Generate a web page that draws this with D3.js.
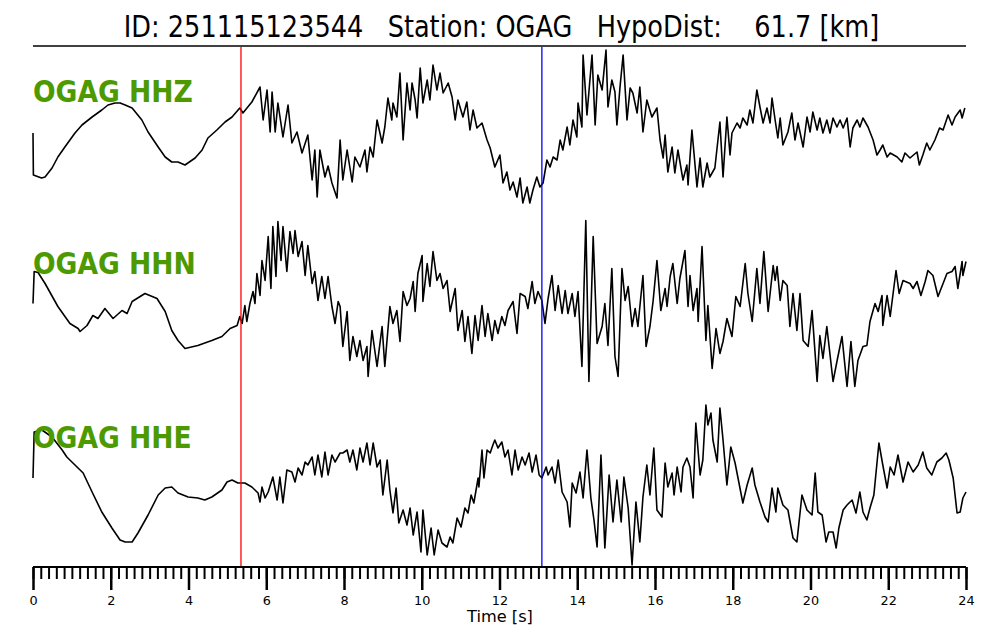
<!DOCTYPE html>
<meta charset="utf-8">
<style>
body {
    margin: 0;
    background: #fff;
}
svg text {
    font-family: 'DejaVu Sans', sans-serif;
    fill: #000;
}
.trace {
    fill: none;
    stroke: #000;
    stroke-width: 1.6px;
    stroke-linejoin: round;
}
.label {
    fill: #4c9a00 !important;
    font-weight: bold;
}
</style>
<svg width="1000" height="640"></svg>

<script src="https://cdn.jsdelivr.net/npm/d3@7"></script>
<script>
const eventId = '251115123544';
const station = 'OGAG';
const hypoDist = 61.7;
const channels = ['HHZ', 'HHN', 'HHE'];
const pPick = 5.35;   // s
const sPick = 13.09;  // s

// [time (s), normalised amplitude]
const hhz = [
[0,-7],[0.01,-49],[0.22,-52],[0.31,-51],[0.49,-42],[0.64,-31],[0.82,-21],[1.08,-7],[1.26,1],[1.52,9],[1.77,16],[1.93,21],[2.11,23],[2.24,23],[2.37,21],[2.55,18],[2.80,6],[2.96,-6],[3.22,-21],[3.40,-31],[3.57,-36],[3.73,-36],[3.91,-39],[4.17,-32],[4.35,-24],[4.50,-12],[4.73,-4],[4.94,4],[5.12,9],[5.32,18],[5.40,13],[5.63,24],[5.84,39],[5.92,6],[6.02,36],[6.10,-6],[6.15,34],[6.23,-6],[6.30,23],[6.43,-11],[6.56,21],[6.66,-17],[6.79,-6],[6.92,-27],[7.07,-9],[7.18,-54],[7.25,-24],[7.31,-71],[7.38,-24],[7.51,-51],[7.59,-40],[7.69,-57],[7.82,-72],[7.90,-14],[7.97,-54],[8.08,-24],[8.21,-56],[8.28,-31],[8.41,-41],[8.54,-24],[8.59,-46],[8.67,-21],[8.75,-31],[8.85,6],[8.98,-17],[9.05,-1],[9.13,28],[9.23,6],[9.26,23],[9.36,9],[9.44,53],[9.52,-14],[9.62,43],[9.70,16],[9.75,43],[9.83,26],[9.88,8],[9.96,58],[10.03,23],[10.14,46],[10.21,26],[10.29,61],[10.39,36],[10.47,53],[10.55,33],[10.68,43],[10.78,29],[10.86,6],[10.93,26],[11.06,9],[11.16,24],[11.24,-4],[11.32,16],[11.42,-2],[11.55,3],[11.68,-14],[11.76,-22],[11.88,-41],[12.01,-29],[12.09,-57],[12.19,-46],[12.27,-64],[12.35,-56],[12.45,-71],[12.53,-52],[12.60,-77],[12.71,-61],[12.78,-77],[12.86,-64],[12.96,-51],[13.04,-61],[13.12,-57],[13.22,-34],[13.30,-41],[13.38,-31],[13.48,-34],[13.56,-14],[13.63,-24],[13.74,-1],[13.81,-19],[13.89,6],[13.99,-11],[14.02,23],[14.12,-1],[14.15,71],[14.25,11],[14.38,71],[14.46,1],[14.53,51],[14.64,36],[14.74,76],[14.79,19],[14.89,46],[14.97,34],[15.02,1],[15.10,39],[15.18,71],[15.28,6],[15.36,38],[15.43,33],[15.54,13],[15.61,39],[15.69,-6],[15.79,26],[15.92,9],[16.05,18],[16.13,-14],[16.21,-32],[16.26,-9],[16.33,-46],[16.44,-21],[16.51,-47],[16.59,-24],[16.72,-54],[16.82,-39],[16.85,-59],[16.95,-4],[17.08,-61],[17.16,-32],[17.23,-61],[17.34,-37],[17.41,-51],[17.54,-42],[17.67,4],[17.75,-51],[17.85,9],[17.93,-29],[17.98,-7],[18.11,3],[18.19,-2],[18.26,8],[18.37,1],[18.44,16],[18.52,3],[18.62,36],[18.70,19],[18.78,3],[18.88,18],[18.96,3],[19.01,28],[19.09,6],[19.16,-12],[19.22,8],[19.29,-19],[19.42,-6],[19.52,13],[19.60,-14],[19.68,3],[19.81,-21],[19.91,9],[19.99,-6],[20.06,14],[20.17,-4],[20.24,8],[20.32,-7],[20.42,6],[20.50,-7],[20.58,8],[20.68,-1],[20.76,6],[20.84,-2],[20.94,8],[21.02,-21],[21.09,-2],[21.20,6],[21.27,-1],[21.35,8],[21.48,-1],[21.61,-14],[21.71,-29],[21.79,-24],[21.86,-19],[21.97,-31],[22.05,-27],[22.23,-31],[22.35,-36],[22.43,-27],[22.56,-32],[22.74,-26],[22.80,-39],[22.89,-29],[22.99,-17],[23.07,-24],[23.20,-14],[23.32,-2],[23.41,-4],[23.54,11],[23.64,1],[23.72,9],[23.85,16],[23.90,8],[23.97,18]
];

const hhn = [
[0,2],[0.03,34],[0.13,33],[0.31,22],[0.64,-1],[0.95,-18],[1.16,-23],[1.21,-26],[1.39,-20],[1.54,-10],[1.67,-13],[1.85,-3],[2.06,-13],[2.29,-5],[2.42,-8],[2.55,4],[2.88,12],[3.19,7],[3.40,-6],[3.57,-25],[3.73,-35],[3.91,-43],[4.24,-40],[4.60,-35],[4.86,-31],[5.07,-23],[5.25,-20],[5.32,-11],[5.38,-18],[5.45,0],[5.50,-16],[5.58,2],[5.66,14],[5.71,2],[5.76,32],[5.84,10],[5.89,45],[5.97,25],[6.05,69],[6.12,17],[6.17,79],[6.25,29],[6.30,84],[6.38,45],[6.43,79],[6.53,34],[6.61,74],[6.69,52],[6.74,75],[6.82,49],[6.92,64],[7.00,30],[7.07,60],[7.18,22],[7.25,34],[7.33,5],[7.43,29],[7.51,7],[7.59,29],[7.69,-1],[7.77,-18],[7.85,4],[7.90,-1],[7.97,-41],[8.08,-6],[8.15,-55],[8.23,-31],[8.33,-51],[8.41,-35],[8.49,-55],[8.59,-41],[8.62,-71],[8.72,-25],[8.85,-61],[8.98,-21],[9.05,-61],[9.18,-1],[9.26,-18],[9.36,-5],[9.44,-36],[9.52,14],[9.62,0],[9.70,7],[9.78,24],[9.83,-6],[9.90,32],[10.01,50],[10.03,4],[10.14,42],[10.21,19],[10.29,54],[10.39,25],[10.47,32],[10.55,17],[10.65,25],[10.73,-6],[10.86,17],[10.93,-25],[11.04,-5],[11.11,-36],[11.19,-11],[11.29,-48],[11.37,-10],[11.45,-35],[11.55,0],[11.63,-31],[11.70,-8],[11.81,-35],[11.88,-15],[11.96,-28],[12.06,-11],[12.14,-20],[12.22,-5],[12.35,4],[12.45,-28],[12.53,12],[12.66,9],[12.73,-3],[12.84,24],[12.91,2],[12.99,14],[13.09,5],[13.17,-18],[13.25,7],[13.35,30],[13.43,-5],[13.51,20],[13.61,-8],[13.69,15],[13.76,-8],[13.87,12],[13.94,-11],[14.02,14],[14.12,-61],[14.22,85],[14.30,-76],[14.41,69],[14.51,-38],[14.64,-21],[14.71,2],[14.79,-40],[14.89,37],[14.97,-51],[15.05,-71],[15.15,37],[15.23,5],[15.31,19],[15.41,-21],[15.49,-3],[15.56,-21],[15.69,30],[15.77,-41],[15.87,-21],[15.95,4],[16.05,45],[16.15,-5],[16.26,17],[16.31,-1],[16.39,29],[16.46,42],[16.57,2],[16.64,27],[16.77,55],[16.85,-1],[16.90,30],[16.98,-5],[17.08,17],[17.11,-16],[17.21,59],[17.31,-35],[17.36,0],[17.47,-63],[17.57,-23],[17.67,-48],[17.75,-36],[17.85,-13],[17.98,-31],[18.08,9],[18.19,-1],[18.32,42],[18.39,12],[18.50,-16],[18.62,37],[18.70,2],[18.80,54],[18.91,-6],[19.04,40],[19.09,25],[19.14,39],[19.22,5],[19.29,25],[19.40,20],[19.47,-21],[19.55,12],[19.65,-25],[19.73,12],[19.81,-35],[19.94,-41],[20.04,-5],[20.17,-76],[20.24,-30],[20.32,-53],[20.42,-21],[20.58,-76],[20.68,-56],[20.81,-31],[20.94,-81],[21.04,-36],[21.14,-81],[21.22,-55],[21.35,-41],[21.45,-40],[21.53,-16],[21.66,2],[21.74,-6],[21.84,10],[21.86,-20],[21.97,10],[22.05,-11],[22.20,35],[22.28,12],[22.38,25],[22.56,22],[22.64,17],[22.74,24],[22.84,10],[22.95,24],[23.02,35],[23.15,30],[23.28,9],[23.41,22],[23.51,32],[23.64,34],[23.72,39],[23.79,17],[23.90,44],[23.92,30],[24.00,44]
];

const hhe = [
[0,7],[0.03,53],[0.23,55],[0.49,48],[0.75,35],[0.87,28],[1.08,20],[1.29,12],[1.52,-7],[1.77,-27],[2.03,-43],[2.24,-55],[2.37,-57],[2.55,-57],[2.70,-48],[2.96,-30],[3.22,-10],[3.40,-3],[3.57,-2],[3.73,-8],[3.99,-12],[4.24,-13],[4.42,-15],[4.60,-12],[4.86,-5],[4.99,3],[5.12,5],[5.27,2],[5.45,2],[5.63,-2],[5.79,-8],[5.84,-17],[5.89,-2],[5.97,-13],[6.05,-7],[6.17,8],[6.28,-15],[6.35,8],[6.43,-18],[6.53,15],[6.66,13],[6.74,3],[6.82,17],[6.92,10],[7.00,23],[7.07,20],[7.18,28],[7.25,10],[7.33,30],[7.43,8],[7.51,33],[7.59,10],[7.69,30],[7.77,23],[7.90,32],[7.97,32],[8.08,35],[8.15,23],[8.23,35],[8.33,15],[8.41,37],[8.49,23],[8.59,42],[8.67,20],[8.75,42],[8.85,18],[8.93,25],[9.00,-10],[9.11,25],[9.18,-5],[9.26,-28],[9.34,-3],[9.41,-38],[9.52,-25],[9.62,-40],[9.70,-23],[9.78,-50],[9.88,-27],[9.98,-67],[10.03,-25],[10.14,-70],[10.24,-43],[10.32,-70],[10.42,-45],[10.52,-58],[10.65,-62],[10.73,-52],[10.80,-58],[10.91,-33],[11.01,-42],[11.11,-23],[11.19,-28],[11.27,-10],[11.34,-18],[11.45,7],[11.47,-2],[11.55,35],[11.60,7],[11.68,35],[11.76,32],[11.83,40],[11.88,45],[11.96,37],[12.06,43],[12.14,28],[12.22,35],[12.32,10],[12.40,35],[12.48,15],[12.58,28],[12.66,20],[12.76,32],[12.84,13],[12.94,30],[13.02,10],[13.09,7],[13.20,18],[13.25,10],[13.35,18],[13.43,2],[13.51,25],[13.61,-7],[13.74,-17],[13.81,-42],[13.87,2],[13.97,-8],[14.07,13],[14.15,-13],[14.25,35],[14.35,-13],[14.43,-35],[14.51,-62],[14.61,30],[14.71,-63],[14.82,10],[14.92,-37],[15.02,5],[15.13,-37],[15.20,8],[15.31,-23],[15.41,-80],[15.51,-17],[15.61,-57],[15.69,-12],[15.79,20],[15.87,-10],[15.97,37],[16.05,-25],[16.18,-32],[16.26,22],[16.33,-2],[16.44,12],[16.49,-10],[16.57,18],[16.67,-7],[16.72,18],[16.82,27],[16.90,18],[16.98,-13],[17.05,62],[17.16,10],[17.23,25],[17.31,80],[17.36,60],[17.44,72],[17.49,45],[17.60,23],[17.67,77],[17.75,45],[17.85,0],[17.95,38],[18.06,22],[18.13,8],[18.26,-18],[18.37,0],[18.50,17],[18.57,0],[18.70,-17],[18.83,-32],[18.91,-37],[19.01,-3],[19.11,-27],[19.16,-3],[19.29,-20],[19.42,-25],[19.55,-53],[19.65,-57],[19.78,-10],[19.91,-25],[20.04,-30],[20.12,12],[20.19,-27],[20.30,-30],[20.40,-57],[20.47,-47],[20.58,-47],[20.66,-63],[20.73,-43],[20.84,-25],[20.94,-20],[21.07,-15],[21.17,-28],[21.27,-7],[21.35,-27],[21.45,-35],[21.53,-23],[21.63,-10],[21.76,42],[21.86,20],[21.97,-3],[22.05,18],[22.15,10],[22.25,30],[22.38,3],[22.51,23],[22.64,13],[22.77,20],[22.89,33],[22.99,17],[23.12,10],[23.25,23],[23.38,27],[23.49,32],[23.56,25],[23.67,7],[23.77,-28],[23.85,-27],[23.92,-13],[24.00,-7]
];

const traces = {HHZ: hhz, HHN: hhn, HHE: hhe};

let svg = d3.select('svg');
const vStretch = 1.13;

let x = d3.scaleLinear().domain([0, 24]).range([33, 966]);
let row = d3.scalePoint().domain(channels).range([126, 485]);
let amp = d3.scaleLinear().domain([-90, 90]).range([90, -90]);

function stretchedText(g, tx, ty, txt, size, anchor, stretch) {
    return g.append('text')
        .attr('transform', `translate(${tx},${ty}) scale(1,${stretch || vStretch})`)
        .attr('text-anchor', anchor || 'start')
        .style('font-size', size + 'px')
        .style('white-space', 'pre')
        .attr('xml:space', 'preserve')
        .text(txt);
}

// title + rule
stretchedText(svg, 501.5, 37, `ID: ${eventId}   Station: ${station}   HypoDist:    ${hypoDist.toFixed(1)} [km]`, 25.6, 'middle', 1.16);
svg.append('line')
    .attr('x1', x(0)).attr('x2', x(24))
    .attr('y1', 46).attr('y2', 46)
    .attr('stroke', '#000').attr('stroke-width', 1.5);

// traces
let line = d3.line()
    .x(d => x(d[0]))
    .y(d => amp(d[1]));

let rows = svg.selectAll('g.row')
    .data(channels)
    .enter().append('g')
        .attr('class', 'row')
        .attr('transform', c => `translate(0,${row(c)})`);

rows.append('path')
    .attr('class', 'trace')
    .attr('d', c => line(traces[c]));

// labels sit a little higher for each lower row
const labelOffset = {HHZ: -24, HHN: -31.5, HHE: -37};
rows.each(function(c) {
    stretchedText(d3.select(this), x(0), labelOffset[c], `${station} ${c}`, 26.6)
        .attr('class', 'label');
});

// picks
[[pPick, '#ff0000'], [sPick, '#0000ff']].forEach(([t, col]) => {
    svg.append('line')
        .attr('x1', x(t)).attr('x2', x(t))
        .attr('y1', 47).attr('y2', 567)
        .attr('stroke', col).attr('stroke-width', 1.3);
});

// time axis
let minor = d3.axisBottom(x)
    .tickValues(d3.range(0, 24.01, 0.2))
    .tickSize(12)
    .tickFormat('');
svg.append('g')
    .attr('transform', 'translate(0,567)')
    .call(minor)
    .call(g => g.select('.domain').remove())
    .call(g => g.selectAll('line').attr('stroke-width', 2));

let major = d3.axisBottom(x)
    .tickValues(d3.range(0, 25, 2))
    .tickSize(23)
    .tickSizeOuter(0);
let ax = svg.append('g')
    .attr('transform', 'translate(0,567)')
    .call(major);
ax.select('.domain').attr('stroke-width', 2.2).attr('d', `M${x(0)},0H${x(24)}`);
ax.selectAll('line').attr('stroke-width', 2.5);
ax.selectAll('text')
    .attr('y', 37.5).attr('dy', null)
    .style('font-size', '12.8px')
    .style('font-family', "'DejaVu Sans', sans-serif");

stretchedText(svg, 500, 621.5, 'Time [s]', 16.2, 'middle', 1);
</script>
